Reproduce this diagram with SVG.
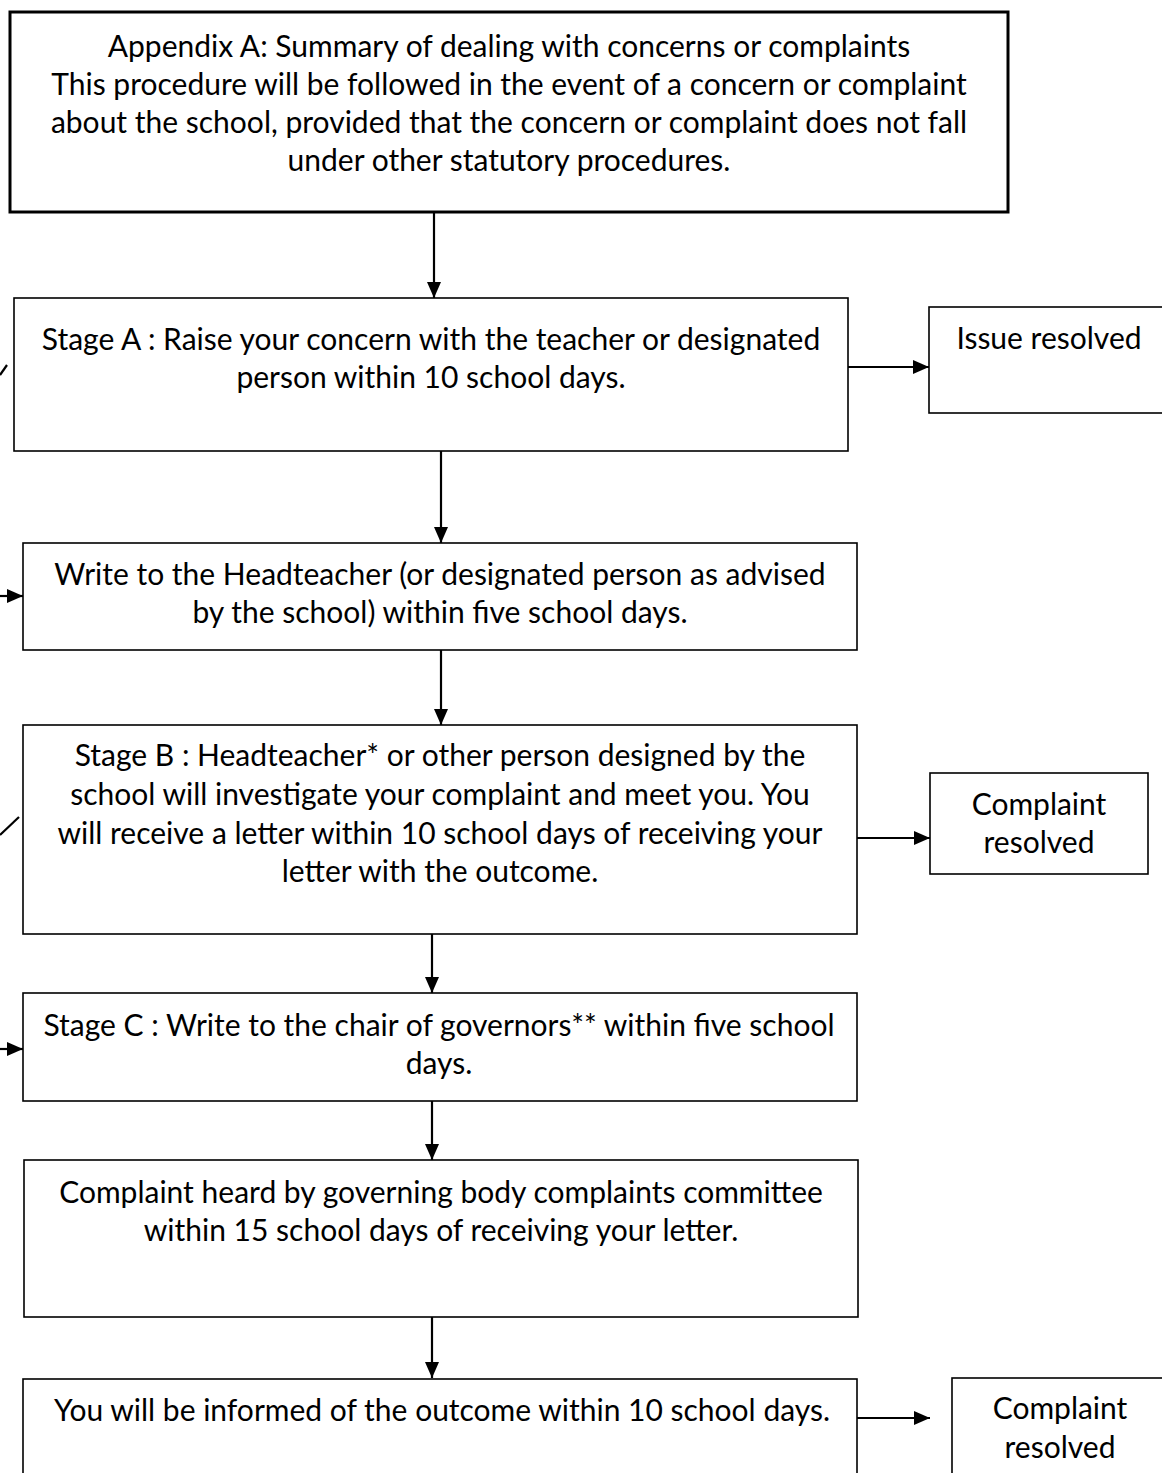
<svg xmlns="http://www.w3.org/2000/svg" width="1162" height="1473" viewBox="0 0 1162 1473">
<style>
.box{fill:#fff;stroke:#000;stroke-width:1.6}
.top{fill:#fff;stroke:#000;stroke-width:3}
.t{font-family:Lato,"Open Sans","Liberation Sans",sans-serif;font-size:30px;fill:#000;text-anchor:middle}
.c{stroke:#000;stroke-width:2.2;fill:none}
</style>
<defs>
<marker id="ah" markerUnits="userSpaceOnUse" markerWidth="18" markerHeight="18" refX="16" refY="9" orient="auto">
<path d="M0,2 L16,9 L0,16 z" fill="#000"/>
</marker>
</defs>
<rect width="1162" height="1473" fill="#fff"/>
<g id="connectors">
<line class="c" x1="434" y1="213" x2="434" y2="298" marker-end="url(#ah)"/>
<line class="c" x1="848" y1="367" x2="929" y2="367" marker-end="url(#ah)"/>
<line class="c" x1="441" y1="451" x2="441" y2="543" marker-end="url(#ah)"/>
<line class="c" x1="0" y1="596" x2="23" y2="596" marker-end="url(#ah)"/>
<line class="c" x1="441" y1="650" x2="441" y2="725" marker-end="url(#ah)"/>
<line class="c" x1="857" y1="838" x2="930" y2="838" marker-end="url(#ah)"/>
<line class="c" x1="432" y1="934" x2="432" y2="993" marker-end="url(#ah)"/>
<line class="c" x1="0" y1="1049" x2="23" y2="1049" marker-end="url(#ah)"/>
<line class="c" x1="432" y1="1101" x2="432" y2="1160" marker-end="url(#ah)"/>
<line class="c" x1="432" y1="1317" x2="432" y2="1378" marker-end="url(#ah)"/>
<line class="c" x1="857" y1="1418" x2="930" y2="1418" marker-end="url(#ah)"/>
<line class="c" x1="0" y1="375" x2="7" y2="365"/>
<line class="c" x1="0" y1="835" x2="19" y2="817"/>
</g>
<g id="intro">
<rect class="top" x="10" y="12" width="998" height="200"/>
<text class="t" x="509" y="57">Appendix A: Summary of dealing with concerns or complaints</text>
<text class="t" x="509" y="95">This procedure will be followed in the event of a concern or complaint</text>
<text class="t" x="509" y="133">about the school, provided that the concern or complaint does not fall</text>
<text class="t" x="509" y="171">under other statutory procedures.</text>
</g>
<g id="stageA">
<rect class="box" x="14" y="298" width="834" height="153"/>
<text class="t" x="431" y="350">Stage A : Raise your concern with the teacher or designated</text>
<text class="t" x="431" y="388">person within 10 school days.</text>
</g>
<g id="issueResolved">
<rect class="box" x="929" y="307" width="260" height="106"/>
<text class="t" x="1049" y="349">Issue resolved</text>
</g>
<g id="writeHead">
<rect class="box" x="23" y="543" width="834" height="107"/>
<text class="t" x="440" y="585">Write to the Headteacher (or designated person as advised</text>
<text class="t" x="440" y="623">by the school) within five school days.</text>
</g>
<g id="stageB">
<rect class="box" x="23" y="725" width="834" height="209"/>
<text class="t" x="440" y="766">Stage B : Headteacher* or other person designed by the</text>
<text class="t" x="440" y="805">school will investigate your complaint and meet you. You</text>
<text class="t" x="440" y="844">will receive a letter within 10 school days of receiving your</text>
<text class="t" x="440" y="882">letter with the outcome.</text>
</g>
<g id="resolvedB">
<rect class="box" x="930" y="773" width="218" height="101"/>
<text class="t" x="1039" y="815">Complaint</text>
<text class="t" x="1039" y="853">resolved</text>
</g>
<g id="stageC">
<rect class="box" x="23" y="993" width="834" height="108"/>
<text class="t" x="439" y="1036">Stage C : Write to the chair of governors** within five school</text>
<text class="t" x="439" y="1074">days.</text>
</g>
<g id="committee">
<rect class="box" x="24" y="1160" width="834" height="157"/>
<text class="t" x="441" y="1203">Complaint heard by governing body complaints committee</text>
<text class="t" x="441" y="1241">within 15 school days of receiving your letter.</text>
</g>
<g id="outcome">
<rect class="box" x="23" y="1379" width="834" height="130"/>
<text class="t" x="442" y="1421">You will be informed of the outcome within 10 school days.</text>
</g>
<g id="resolvedFinal">
<rect class="box" x="952" y="1378" width="230" height="130"/>
<text class="t" x="1060" y="1419">Complaint</text>
<text class="t" x="1060" y="1458">resolved</text>
</g>
</svg>
